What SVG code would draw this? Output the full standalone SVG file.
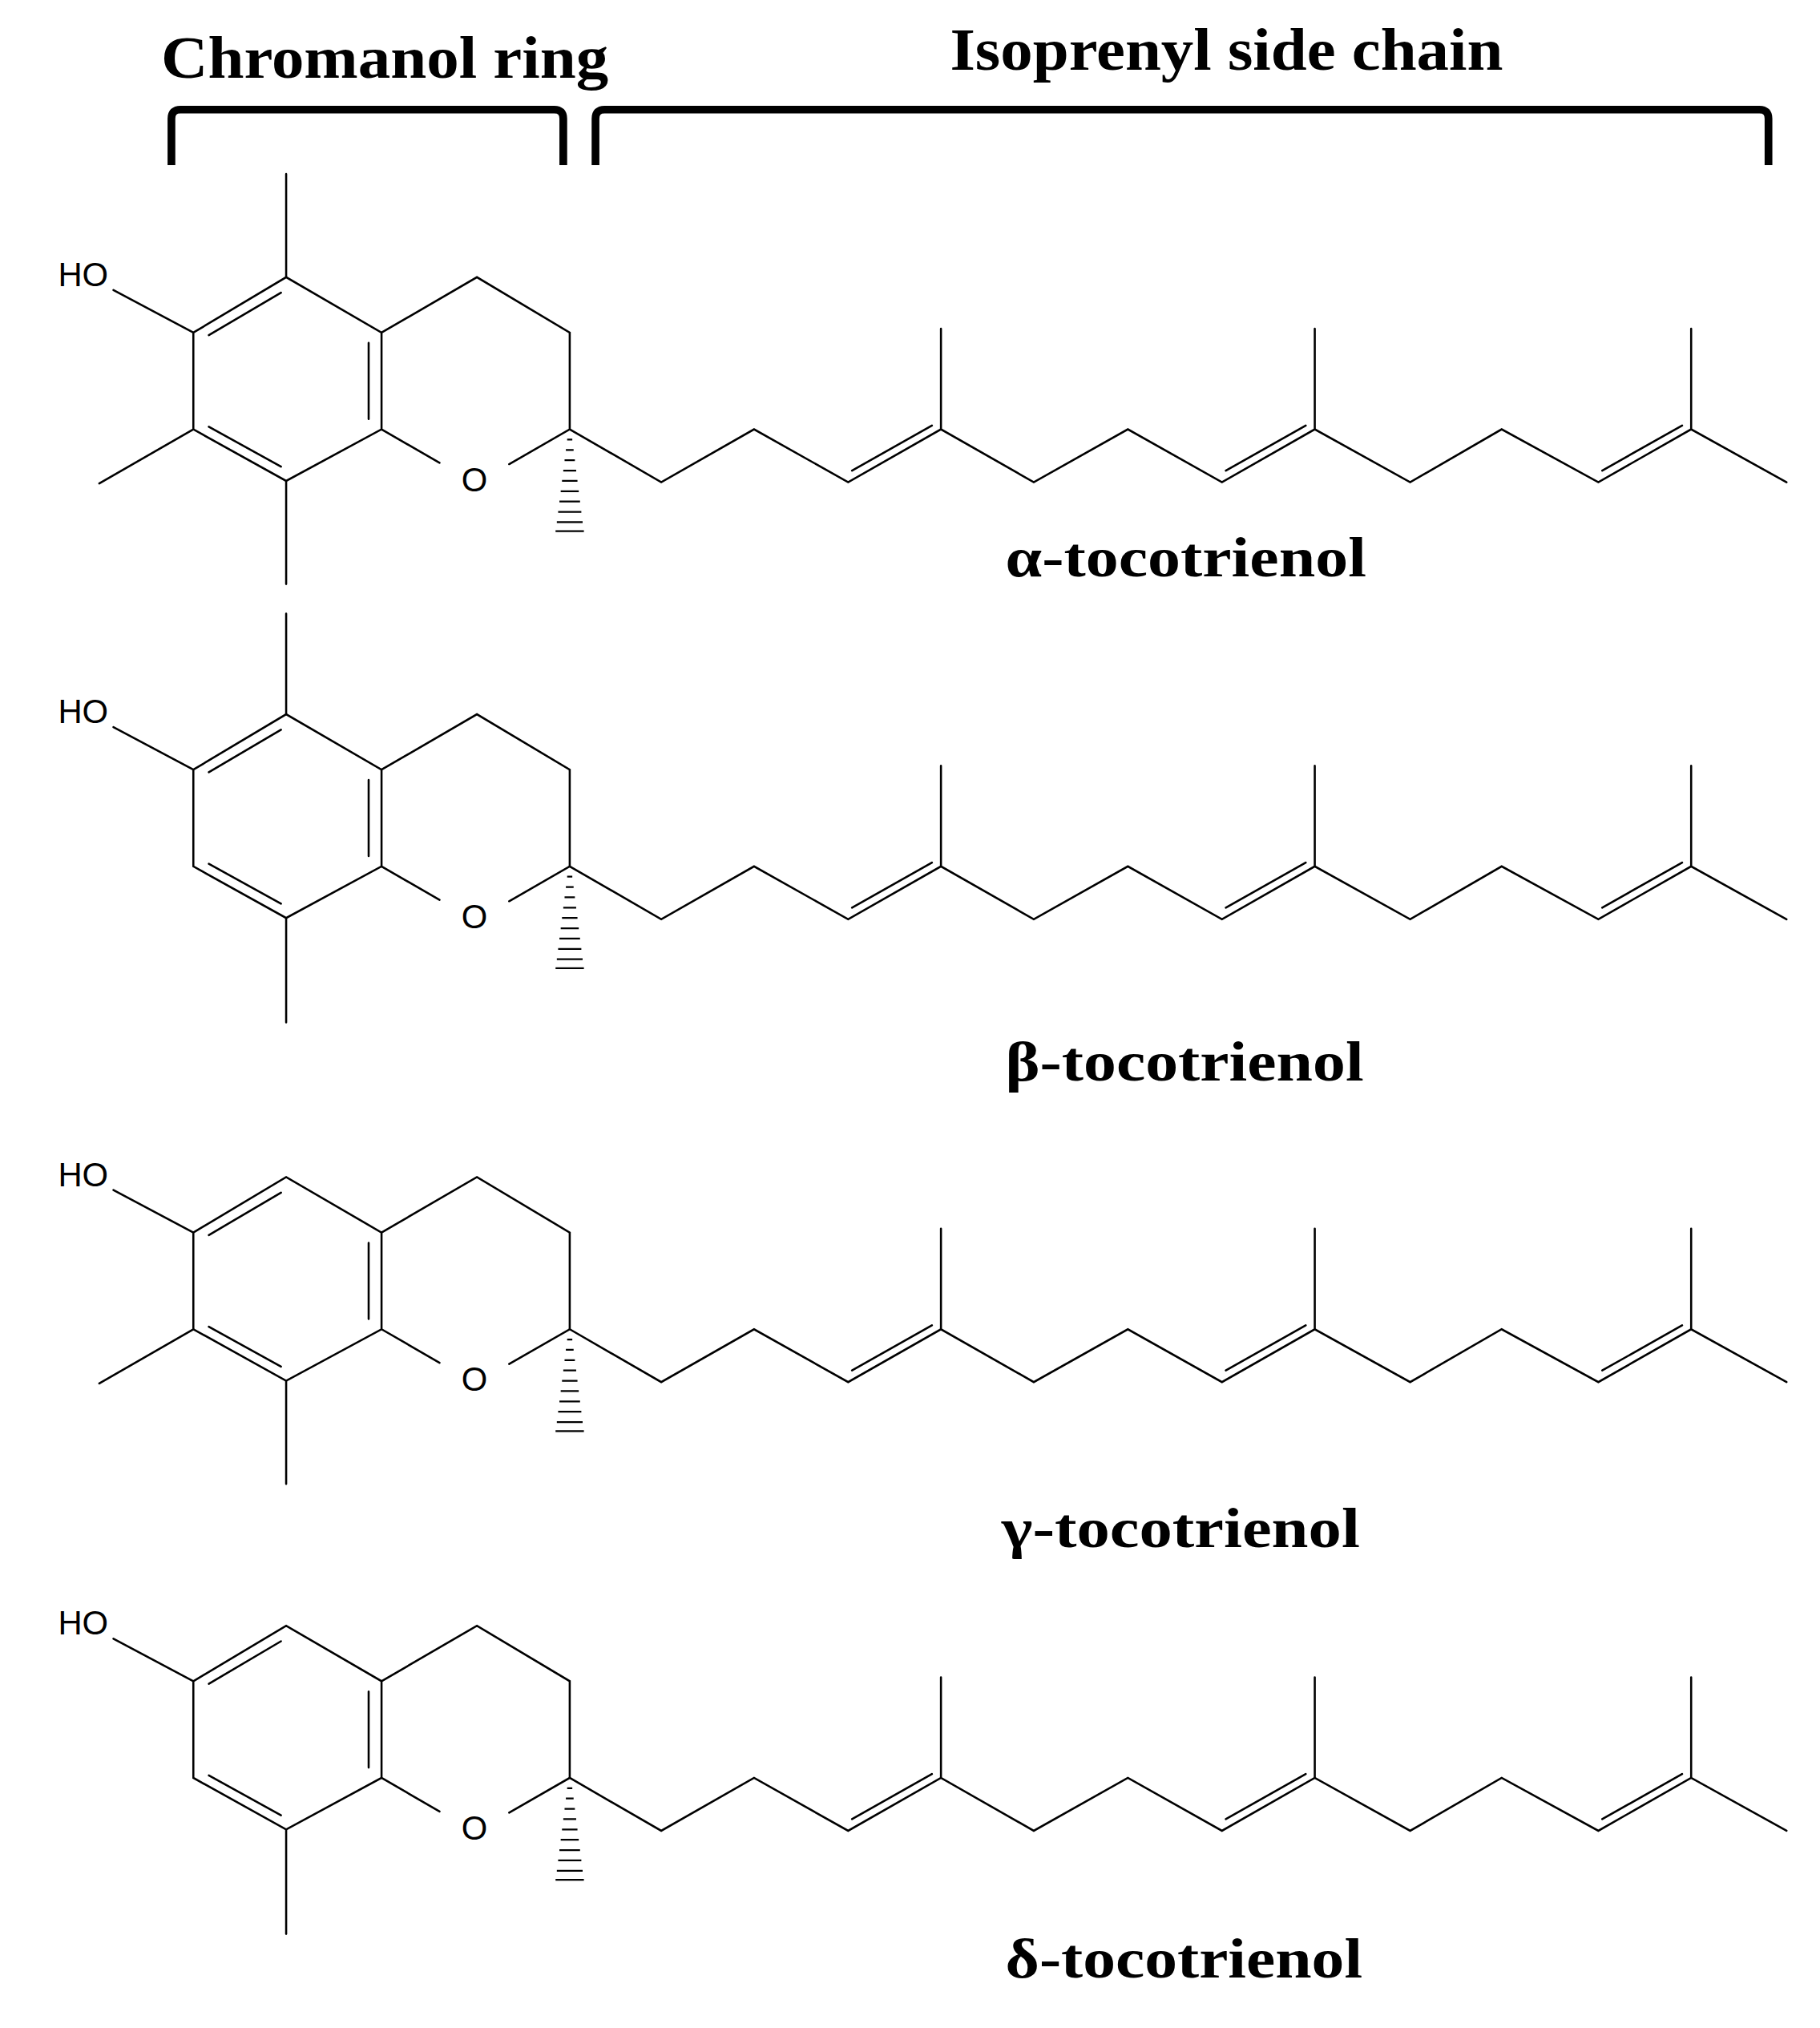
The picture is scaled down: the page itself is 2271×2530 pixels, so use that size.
<svg xmlns="http://www.w3.org/2000/svg" xmlns:xlink="http://www.w3.org/1999/xlink" width="2271" height="2530" viewBox="0 0 2271 2530">
<style>
.b{stroke:#000;stroke-width:1.6;fill:none;stroke-linecap:round}
.h{stroke:#000;stroke-width:1.4}
.br{stroke:#000;stroke-width:6;fill:none;stroke-linejoin:round}
.at{font-family:"Liberation Sans",Arial,sans-serif;font-size:26px;fill:#000}
.ti{font-family:"Liberation Serif","Times New Roman",serif;font-weight:bold;font-size:46px;fill:#000}
.lb{font-family:"Liberation Serif","Times New Roman",serif;font-weight:bold;font-size:44px;fill:#000}
</style>
<rect width="2271" height="2530" fill="#fff"/>
<defs>
<g id="core">
<path class="b" d="M88,225 L150,258 M150,258 L222,215 L296,258 L296,333 L222,373 L150,333 Z M296,258 L370,215 L442,258 L442,333 L395,360 M341,359 L296,333"/>
<path class="b" d="M218,227 L162,260 M162,331 L218,362 M286,266 L286,325"/>
<path class="h" d="M440,341h4M439,349h6M438,357h8M437,365h10M436,373h12M435,381h14M434,389h16M433,397h18M432,405h20M431,412h22"/>
<text class="at" x="45" y="222">HO</text>
<text class="at" x="368" y="381" text-anchor="middle">O</text>
<path class="b" d="M442,333 L513,374 L585,333 L658,374 L730,333 L802,374 L875,333 L948,374 L1020,333 L1094,374 L1165,333 L1240,374 L1312,333 L1386,374 M730,333 L730,255 M1020,333 L1020,255 M1312,333 L1312,255"/>
<path class="b" d="M661,365 L723,330 M951,365 L1013,330 M1243,365 L1305,330"/>
</g>
</defs>
<g transform="scale(1.6084)">
<g id="header">
<path class="br" d="M133,128 L133,92 Q133,85 140,85 L430,85 Q437,85 437,92 L437,128"/>
<path class="br" d="M462,128 L462,92 Q462,85 469,85 L1365,85 Q1372,85 1372,92 L1372,128"/>
<text class="ti" x="125" y="60" textLength="347" lengthAdjust="spacingAndGlyphs">Chromanol ring</text>
<text class="ti" x="737" y="54" textLength="429" lengthAdjust="spacingAndGlyphs">Isoprenyl side chain</text>
</g>
<g id="alpha">
<use xlink:href="#core"/>
<path class="b" d="M222,215 L222,135 M150,333 L77,375 M222,373 L222,453"/>
<text class="lb" x="780" y="447" textLength="280" lengthAdjust="spacingAndGlyphs">α-tocotrienol</text>
</g>
<g id="beta" transform="translate(0,339)">
<use xlink:href="#core"/>
<path class="b" d="M222,215 L222,137 M222,373 L222,454"/>
<text class="lb" x="780" y="499" textLength="278" lengthAdjust="spacingAndGlyphs">β-tocotrienol</text>
</g>
<g id="gamma" transform="translate(0,698)">
<use xlink:href="#core"/>
<path class="b" d="M150,333 L77,375 M222,373 L222,453"/>
<text class="lb" x="777" y="502" textLength="278" lengthAdjust="spacingAndGlyphs">γ-tocotrienol</text>
</g>
<g id="delta" transform="translate(0,1046)">
<use xlink:href="#core"/>
<path class="b" d="M222,373 L222,454"/>
<text class="lb" x="780" y="488" textLength="277" lengthAdjust="spacingAndGlyphs">δ-tocotrienol</text>
</g>
</g>
</svg>
